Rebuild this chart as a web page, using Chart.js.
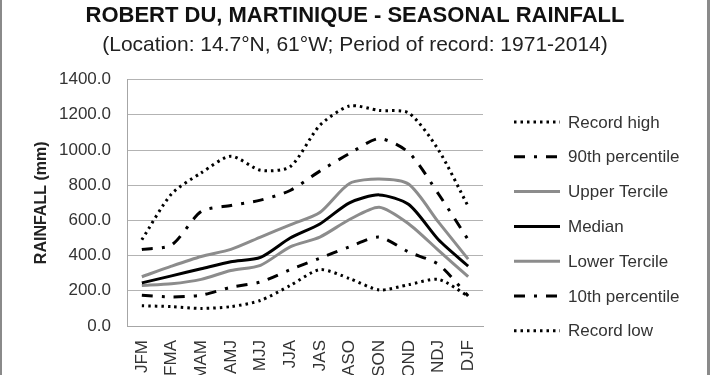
<!DOCTYPE html>
<html>
<head>
<meta charset="utf-8">
<script src="https://cdn.jsdelivr.net/npm/chart.js@4"></script>
<style>
  html, body { margin: 0; padding: 0; background: #fff; }
  canvas { display: block; }
</style>
</head>
<body>
<canvas id="lluvia" width="710" height="375"></canvas>
<script>
// datos (mm)
const seasons = ['JFM', 'FMA', 'MAM', 'AMJ', 'MJJ', 'JJA', 'JAS', 'ASO', 'SON', 'OND', 'NDJ', 'DJF'];
const recordHigh   = [490, 750, 870, 965, 885, 905, 1140, 1250, 1225, 1210, 1000, 680];
const pct90        = [435, 460, 650, 685, 715, 770, 880, 980, 1065, 985, 750, 490];
const upperTercile = [280, 340, 395, 435, 505, 575, 645, 810, 835, 805, 590, 380];
const median       = [245, 285, 325, 365, 390, 500, 580, 700, 745, 690, 490, 340];
const lowerTercile = [230, 240, 265, 315, 345, 450, 505, 605, 675, 580, 430, 280];
const pct10        = [175, 165, 175, 220, 250, 320, 385, 450, 505, 420, 350, 170];
const recordLow    = [115, 110, 100, 110, 145, 230, 320, 270, 205, 235, 265, 170];
const yMin = 0, yMax = 1400, yStep = 200;

const FONT = "'Liberation Sans', Arial, sans-serif";
const GRIS = '#8c8c8c';
const DOTS = [2.5, 4];
const DASHDOT = [11, 9, 3, 9];

function serie(label, data, color, dash) {
  return {
    label: label,
    data: data,
    borderColor: color,
    backgroundColor: color,
    borderWidth: 3,
    borderDash: dash,
    pointRadius: 0,
    tension: 0.25,
    fill: false
  };
}

// fondo blanco + marco gris a los lados
const fondo = {
  id: 'fondo',
  beforeDraw(chart) {
    const c = chart.ctx;
    c.save();
    c.fillStyle = '#fff';
    c.fillRect(0, 0, chart.width, chart.height);
    c.fillStyle = '#8a8a8a';
    c.fillRect(0, 0, 2, chart.height);
    c.fillRect(chart.width - 3, 0, 3, chart.height);
    c.restore();
  }
};

// leyenda a la derecha, al estilo de Excel
const leyenda = {
  id: 'leyenda',
  afterDraw(chart) {
    const c = chart.ctx;
    c.save();
    chart.data.datasets.forEach((ds, i) => {
      const y = 122 + i * 34.8;
      c.beginPath();
      c.strokeStyle = ds.borderColor;
      c.lineWidth = ds.borderWidth;
      c.setLineDash(ds.borderDash || []);
      c.moveTo(514, y);
      c.lineTo(560, y);
      c.stroke();
      c.setLineDash([]);
      c.fillStyle = '#333';
      c.font = '17px ' + FONT;
      c.textBaseline = 'middle';
      c.textAlign = 'left';
      c.fillText(ds.label, 568, y + 1);
    });
    c.restore();
  }
};

const ctx = document.getElementById('lluvia').getContext('2d');
new Chart(ctx, {
  type: 'line',
  data: {
    labels: seasons,
    datasets: [
      serie('Record high', recordHigh, '#000', DOTS),
      serie('90th percentile', pct90, '#000', DASHDOT),
      serie('Upper Tercile', upperTercile, GRIS, []),
      serie('Median', median, '#000', []),
      serie('Lower Tercile', lowerTercile, GRIS, []),
      serie('10th percentile', pct10, '#000', DASHDOT),
      serie('Record low', recordLow, '#000', DOTS)
    ]
  },
  options: {
    responsive: false,
    animation: false,
    devicePixelRatio: 1,
    layout: { padding: 0 },
    scales: {
      x: {
        offset: true,
        grid: { display: false, drawTicks: false },
        border: { display: true, color: '#a6a6a6', width: 1 },
        ticks: {
          color: '#333',
          font: { family: FONT, size: 17 },
          minRotation: 90,
          maxRotation: 90,
          padding: 14,
          autoSkip: false
        },
        afterFit(scale) { scale.height = 49; }
      },
      y: {
        min: yMin,
        max: yMax,
        grid: { color: '#b3b3b3', lineWidth: 1, drawTicks: false },
        border: { display: true, color: '#a6a6a6', width: 1 },
        ticks: {
          stepSize: yStep,
          color: '#333',
          font: { family: FONT, size: 17 },
          padding: 16,
          callback: v => v.toFixed(1)
        },
        title: {
          display: true,
          text: 'RAINFALL (mm)',
          color: '#222',
          font: { family: FONT, size: 16, weight: 'bold' },
          padding: { top: 32, bottom: 0 }
        },
        afterFit(scale) { scale.width = 127; }
      },
      // eje vacio a la derecha: solo reserva el espacio de la leyenda
      hueco: {
        type: 'linear',
        position: 'right',
        display: true,
        grid: { display: false, drawTicks: false },
        border: { display: false },
        ticks: { display: false },
        afterFit(scale) { scale.width = 227; }
      }
    },
    plugins: {
      legend: { display: false },
      tooltip: { enabled: false },
      title: {
        display: true,
        text: 'ROBERT DU, MARTINIQUE - SEASONAL RAINFALL',
        color: '#111',
        font: { family: FONT, size: 22, weight: 'bold' },
        padding: { top: 3, bottom: 3 }
      },
      subtitle: {
        display: true,
        text: '(Location: 14.7°N, 61°W; Period of record: 1971-2014)',
        color: '#222',
        font: { family: FONT, size: 21 },
        padding: { top: 0, bottom: 22 }
      }
    }
  },
  plugins: [fondo, leyenda]
});
</script>
</body>
</html>
